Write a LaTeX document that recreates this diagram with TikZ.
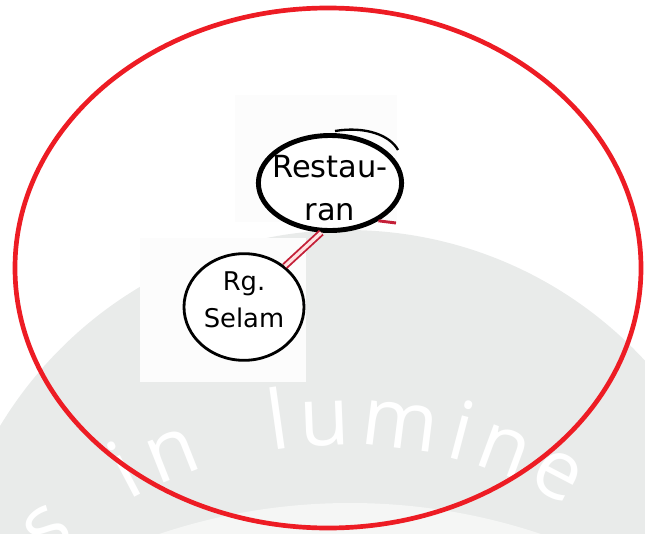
\documentclass[tikz,border=0pt]{standalone}
\usepackage{fontspec}
\setmainfont{DejaVu Sans}
\newfontfamily\markfont{Open Sans}
\usetikzlibrary{shapes.geometric,calc}
\definecolor{ringred}{RGB}{237,28,36}
\definecolor{linkred}{RGB}{196,32,56}
\definecolor{markgray}{RGB}{233,235,234}
\definecolor{marklight}{RGB}{245,246,245}
\definecolor{patchwhite}{RGB}{252,252,252}
\begin{document}
\begin{tikzpicture}[x=0.03cm,y=-0.03cm,
  spot/.style={draw=black,ellipse,fill=white,align=center},
  link/.style={draw=linkred,line width=1.6pt,double=pink!45,double distance=2.8pt},
  markletter/.style={text=white,font=\markfont\fontsize{70}{70}\selectfont,anchor=base,inner sep=0pt}]
\useasboundingbox (0,0) rectangle (645,534);
\clip (0,0) rectangle (645,534);
% watermark behind the sketch
\fill[markgray] (347,635) circle[radius=405];
\fill[marklight] (350,1103) circle[radius=600];
\foreach \ch/\ang in {s/129.7,i/117.7,n/111.6,l/98,u/92.2,m/82.9,i/75.3,n/69.7,e/62.5}
  \node[markletter,rotate=\ang-90] at ($(343,886)+(-\ang:441)$) {\ch};
% pasted sketch patches
\fill[patchwhite] (235,95) rectangle (397,222);
\fill[patchwhite] (140,238) rectangle (306,382);
\draw[ringred,line width=4pt] (328,268) ellipse[x radius=313,y radius=260];
\node[spot,line width=4.2pt,inner sep=-6pt,minimum width=4.2cm,minimum height=2.85cm,
  font=\fontsize{26}{37}\selectfont] (restoran) at (330,183) {\rule{0pt}{28pt}Restau-\\ran};
\node[spot,line width=2.4pt,inner sep=0pt,minimum width=3.6cm,minimum height=3.2cm,
  text depth=13pt,font=\fontsize{22}{32}\selectfont] (selam) at (244,307) {Rg.\\Selam};
\draw[line width=2pt] (335,131) .. controls (365,126) and (390,135) .. (398,150);
\draw[link] (selam.45) -- (restoran.260);
\coordinate (cut) at (396,223);
\draw[linkred,line width=2.5pt] (restoran.-38) -- (cut);
\end{tikzpicture}
\end{document}
